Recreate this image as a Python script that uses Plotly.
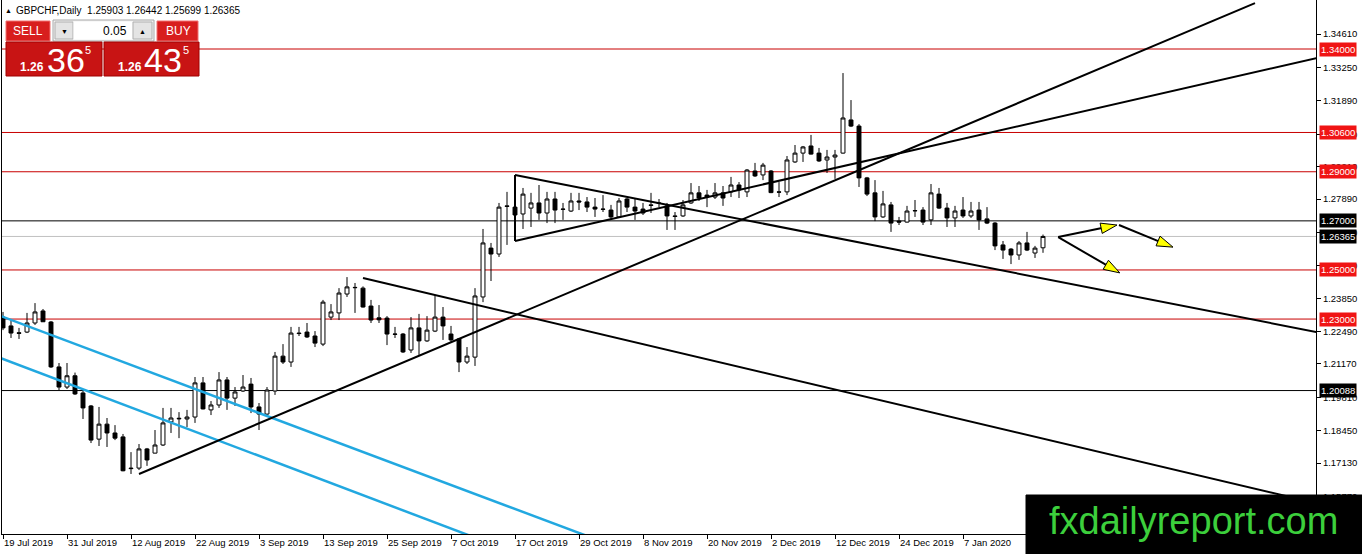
import plotly.graph_objects as go

# GBPCHF daily candles, 19 Jul 2019 .. 21 Jan 2020 (bar index 0..130)
opens = [1.2308, 1.2272, 1.2244, 1.2247, 1.2284, 1.2333, 1.2288, 1.2105, 1.2023, 1.2069,
         1.1999, 1.1946, 1.1811, 1.1872, 1.1836, 1.1820, 1.1693, 1.1693, 1.1771, 1.1754,
         1.1787, 1.1881, 1.1896, 1.1893, 1.1901, 1.2040, 1.1930, 1.1950, 1.2052, 1.1978,
         1.2007, 1.2035, 1.1942, 1.1913, 1.2007, 1.2149, 1.2125, 1.2243, 1.2247, 1.2231,
         1.2198, 1.2308, 1.2325, 1.2402, 1.2429, 1.2426, 1.2353, 1.2305, 1.2304, 1.2239,
         1.2239, 1.2174, 1.2264, 1.2211, 1.2251, 1.2308, 1.2239, 1.2219, 1.2125, 1.2145,
         1.2390, 1.2589, 1.2565, 1.2761, 1.2756, 1.2728, 1.2752, 1.2773, 1.2732, 1.2789,
         1.2748, 1.2740, 1.2781, 1.2777, 1.2756, 1.2748, 1.2744, 1.2716, 1.2789, 1.2756,
         1.2748, 1.2765, 1.2773, 1.2761, 1.2720, 1.2720, 1.2773, 1.2814, 1.2805, 1.2797,
         1.2814, 1.2818, 1.2846, 1.2818, 1.2903, 1.2887, 1.2903, 1.2818, 1.2818, 1.2940,
         1.2976, 1.3005, 1.2976, 1.2948, 1.2960, 1.2976, 1.3111, 1.3086, 1.2875, 1.2814,
         1.2716, 1.2765, 1.2699, 1.2695, 1.2742, 1.2744, 1.2704, 1.2809, 1.2752, 1.2712,
         1.2744, 1.2720, 1.2744, 1.2708, 1.2691, 1.2602, 1.2585, 1.2561, 1.2610, 1.2569,
         1.25903]
highs = [1.2329, 1.2300, 1.2264, 1.2325, 1.2365, 1.2341, 1.2292, 1.2121, 1.2121, 1.2082,
         1.2011, 1.1950, 1.1942, 1.1897, 1.1868, 1.1832, 1.1758, 1.1791, 1.1775, 1.1848,
         1.1938, 1.1938, 1.1921, 1.1930, 1.2064, 1.2064, 1.1966, 1.2084, 1.2064, 1.2023,
         1.2072, 1.2060, 1.1958, 1.2023, 1.2166, 1.2198, 1.2268, 1.2268, 1.2284, 1.2251,
         1.2378, 1.2361, 1.2426, 1.2471, 1.2447, 1.2433, 1.2378, 1.2357, 1.2312, 1.2268,
         1.2243, 1.2308, 1.2321, 1.2312, 1.2398, 1.2349, 1.2272, 1.2223, 1.2186, 1.2426,
         1.2667, 1.2610, 1.2773, 1.2818, 1.2773, 1.2834, 1.2814, 1.2846, 1.2818, 1.2818,
         1.2773, 1.2814, 1.2814, 1.2797, 1.2793, 1.2805, 1.2765, 1.2793, 1.2793, 1.2789,
         1.2773, 1.2814, 1.2789, 1.2773, 1.2736, 1.2785, 1.2854, 1.2842, 1.2826, 1.2854,
         1.2842, 1.2879, 1.2858, 1.2911, 1.2936, 1.2936, 1.2907, 1.2858, 1.2964, 1.3009,
         1.3005, 1.3050, 1.2997, 1.2989, 1.2989, 1.3302, 1.3192, 1.3094, 1.2879, 1.2866,
         1.2822, 1.2777, 1.2716, 1.2761, 1.2785, 1.2756, 1.2850, 1.2834, 1.2773, 1.2761,
         1.2797, 1.2777, 1.2777, 1.2756, 1.2695, 1.2618, 1.2589, 1.2618, 1.2655, 1.2598,
         1.26442]
lows = [1.2255, 1.2223, 1.2219, 1.2243, 1.2276, 1.2288, 1.2101, 1.2011, 1.2015, 1.1991,
        1.1893, 1.1795, 1.1783, 1.1779, 1.1807, 1.1680, 1.1669, 1.1685, 1.1702, 1.1753,
        1.1783, 1.1836, 1.1815, 1.1860, 1.1877, 1.1932, 1.1909, 1.1938, 1.1930, 1.1946,
        1.2003, 1.1917, 1.1848, 1.1909, 1.1991, 1.2117, 1.2105, 1.2231, 1.2223, 1.2186,
        1.2190, 1.2296, 1.2296, 1.2390, 1.2325, 1.2347, 1.2284, 1.2284, 1.2194, 1.2223,
        1.2162, 1.2162, 1.2154, 1.2207, 1.2247, 1.2215, 1.2207, 1.2084, 1.2117, 1.2109,
        1.2369, 1.2455, 1.2553, 1.2602, 1.2712, 1.2667, 1.2675, 1.2704, 1.2691, 1.2691,
        1.2704, 1.2736, 1.2744, 1.2736, 1.2716, 1.2736, 1.2704, 1.2712, 1.2736, 1.2704,
        1.2724, 1.2732, 1.2756, 1.2663, 1.2663, 1.2716, 1.2769, 1.2781, 1.2756, 1.2789,
        1.2761, 1.2797, 1.2793, 1.2797, 1.2879, 1.2866, 1.2813, 1.2797, 1.2805, 1.2936,
        1.2940, 1.2970, 1.2940, 1.2895, 1.2871, 1.2974, 1.3082, 1.2838, 1.2801, 1.2699,
        1.2712, 1.2655, 1.2683, 1.2693, 1.2716, 1.2683, 1.2683, 1.2748, 1.2675, 1.2675,
        1.2712, 1.2712, 1.2663, 1.2687, 1.2581, 1.2545, 1.2524, 1.2541, 1.2577, 1.2549,
        1.25699]
closes = [1.2264, 1.2243, 1.2242, 1.2284, 1.2329, 1.2289, 1.2105, 1.2023, 1.2069, 1.1995,
          1.1938, 1.1807, 1.1872, 1.1836, 1.1815, 1.1682, 1.1691, 1.1771, 1.1726, 1.1787,
          1.1877, 1.1897, 1.1894, 1.1901, 1.2040, 1.1934, 1.1950, 1.2052, 1.1978, 1.2003,
          1.2023, 1.1942, 1.1913, 1.2011, 1.2149, 1.2125, 1.2243, 1.2241, 1.2227, 1.2202,
          1.2369, 1.2329, 1.2406, 1.2431, 1.2428, 1.2349, 1.2296, 1.2297, 1.2239, 1.2238,
          1.2166, 1.2264, 1.2211, 1.2255, 1.2308, 1.2272, 1.2215, 1.2125, 1.2149, 1.2394,
          1.2610, 1.2565, 1.2756, 1.2759, 1.2724, 1.2809, 1.2773, 1.2732, 1.2789, 1.2744,
          1.2747, 1.2781, 1.2777, 1.2756, 1.2748, 1.2747, 1.2716, 1.2781, 1.2756, 1.2740,
          1.2732, 1.2763, 1.2771, 1.2720, 1.2718, 1.2765, 1.2814, 1.2793, 1.2797, 1.2814,
          1.2793, 1.2846, 1.2826, 1.2907, 1.2883, 1.2927, 1.2815, 1.2817, 1.2948, 1.2976,
          1.3001, 1.2972, 1.2944, 1.2960, 1.2968, 1.3119, 1.3086, 1.2875, 1.2809, 1.2716,
          1.2769, 1.2691, 1.2695, 1.2740, 1.2741, 1.2695, 1.2814, 1.2752, 1.2712, 1.2740,
          1.2720, 1.2740, 1.2704, 1.2691, 1.2598, 1.2581, 1.2561, 1.2610, 1.2581, 1.2589,
          1.26365]
bars = list(range(len(closes)))

# date labels every 8 bars
date_ticks = [0, 8, 16, 24, 32, 40, 48, 56, 64, 72, 80, 88, 96, 104, 112, 120]
date_labels = ["19 Jul 2019", "31 Jul 2019", "12 Aug 2019", "22 Aug 2019", "3 Sep 2019",
               "13 Sep 2019", "25 Sep 2019", "7 Oct 2019", "17 Oct 2019", "29 Oct 2019",
               "8 Nov 2019", "20 Nov 2019", "2 Dec 2019", "12 Dec 2019", "24 Dec 2019",
               "7 Jan 2020"]

price_ticks = [1.34610, 1.33250, 1.31890, 1.30530, 1.29210, 1.27890, 1.26530, 1.25170,
               1.23850, 1.22490, 1.21170, 1.19810, 1.18450, 1.17130, 1.15770]

red_levels = [1.34, 1.306, 1.29, 1.25, 1.23]
black_levels = [1.27, 1.20088]
bid = 1.26365

# drawn objects (bar index, price)
up_line_x, up_line_y = [17, 156.5], [1.1669, 1.3587]
down_line_x, down_line_y = [45, 164.2], [1.2467, 1.1550]
tri_upper_x, tri_upper_y = [64, 164.2], [1.2887, 1.2247]
tri_lower_x, tri_lower_y = [64, 164.2], [1.2618, 1.3363]
tri_side_x, tri_side_y = [64, 64], [1.2887, 1.2618]
cyan1_x, cyan1_y = [-1, 80], [1.2321, 1.1331]
cyan2_x, cyan2_y = [-1, 70], [1.2150, 1.1274]
arrows = [([131.9, 139.25], [1.2634, 1.2683]),
          ([139.5, 146.25], [1.2683, 1.2593]),
          ([131.9, 139.6], [1.2634, 1.2488])]

W, H = 1362, 554
ML, MR, MT, MB = 2, 46, 0, 20
PW, PH = W - ML - MR, H - MT - MB
FONT = "Liberation Sans, Arial, sans-serif"


def px(x):
    return (x - ML) / PW


def py(y):
    return 1 - (y - MT) / PH


fig = go.Figure()

fig.add_trace(go.Candlestick(
    x=bars, open=opens, high=highs, low=lows, close=closes,
    increasing=dict(line=dict(color="black", width=1), fillcolor="white"),
    decreasing=dict(line=dict(color="black", width=1), fillcolor="black"),
    whiskerwidth=0, hoverinfo="skip", showlegend=False))

def seg(xs, ys, color="black", width=2):
    fig.add_trace(go.Scatter(x=xs, y=ys, mode="lines", line=dict(color=color, width=width),
                             hoverinfo="skip", showlegend=False))

seg(cyan1_x, cyan1_y, "#22a8e0", 2.5)
seg(cyan2_x, cyan2_y, "#22a8e0", 2.5)
seg(up_line_x, up_line_y)
seg(down_line_x, down_line_y)
seg(tri_upper_x, tri_upper_y)
seg(tri_lower_x, tri_lower_y)
seg(tri_side_x, tri_side_y)
for ax, ay in arrows:
    fig.add_trace(go.Scatter(
        x=ax, y=ay, mode="lines+markers", line=dict(color="black", width=2),
        marker=dict(symbol="arrow", size=[0, 17], color="#ffff00", opacity=[0, 1],
                    angleref="previous", line=dict(color="black", width=1)),
        hoverinfo="skip", showlegend=False))

shapes = []
for lv in red_levels:
    shapes.append(dict(type="line", xref="paper", x0=0, x1=1, yref="y", y0=lv, y1=lv,
                       line=dict(color="#c80000", width=1), layer="below"))
for lv in black_levels:
    shapes.append(dict(type="line", xref="paper", x0=0, x1=1, yref="y", y0=lv, y1=lv,
                       line=dict(color="black", width=1), layer="below"))
shapes.append(dict(type="line", xref="paper", x0=0, x1=1, yref="y", y0=bid, y1=bid,
                   line=dict(color="#c0c0c0", width=1), layer="below"))


def box(x0, y0, x1, y1, fill, border):
    shapes.append(dict(type="rect", xref="paper", yref="paper", x0=px(x0), x1=px(x1),
                       y0=py(y1), y1=py(y0), fillcolor=fill,
                       line=dict(color=border, width=1), layer="above"))


# one-click trading panel
box(6, 21, 50, 41, "#d81e1e", "#f07070")
box(53, 20, 154, 41, "#f2f2f2", "#a8a8a8")
box(55, 22, 73, 39, "#e4e4e4", "#b0b0b0")
box(74, 22, 132, 39, "white", "white")
box(133, 22, 152, 39, "#e4e4e4", "#b0b0b0")
box(157, 21, 198, 41, "#d81e1e", "#f07070")
box(6, 42, 102, 76, "#c81414", "#a00000")
box(104, 42, 199, 76, "#c81414", "#a00000")
# watermark
box(1026, 495, 1370, 560, "black", "black")

ann = []


def label(x, y, text, size=10, color="black", xanchor="left", bold=False):
    t = "<b>" + text + "</b>" if bold else text
    ann.append(dict(xref="paper", yref="paper", x=px(x), y=py(y), text=t, showarrow=False,
                    xanchor=xanchor, yanchor="middle", borderpad=0,
                    font=dict(family=FONT, size=size, color=color)))


label(4, 10, "▲", size=7)
label(15, 10, "GBPCHF,Daily  1.25903 1.26442 1.25699 1.26365", size=10)
label(28, 31, "SELL", size=12, color="white", xanchor="center")
label(178, 31, "BUY", size=12, color="white", xanchor="center")
label(64, 31, "▼", size=7, xanchor="center")
label(142, 31, "▲", size=7, xanchor="center")
label(128, 31, "0.05", size=12, xanchor="right")
label(19, 67, "1.26", size=12, color="white", bold=True)
label(46, 60, "36", size=34, color="white")
label(84, 50, "5", size=11, color="white")
label(117, 67, "1.26", size=12, color="white", bold=True)
label(143, 60, "43", size=34, color="white")
label(182, 50, "5", size=11, color="white")
label(1193, 521, "fxdailyreport.com", size=38, color="#3ccf3c", xanchor="center")

for lv in red_levels:
    ann.append(dict(xref="paper", yref="y", x=px(1319), y=lv, text=f"{lv:.5f}",
                    showarrow=False, xanchor="left", yanchor="middle", bgcolor="#f01414",
                    borderpad=1, font=dict(family=FONT, size=9.5, color="white")))
for lv in black_levels + [bid]:
    ann.append(dict(xref="paper", yref="y", x=px(1319), y=lv, text=f"{lv:.5f}",
                    showarrow=False, xanchor="left", yanchor="middle", bgcolor="black",
                    borderpad=1, font=dict(family=FONT, size=9.5, color="white")))

fig.update_layout(
    width=W, height=H,
    margin=dict(l=ML, r=MR, t=MT, b=MB, autoexpand=False),
    paper_bgcolor="white", plot_bgcolor="white",
    shapes=shapes, annotations=ann, showlegend=False,
    font=dict(family=FONT, size=9.5, color="black"),
    xaxis=dict(range=[-0.125, 164.125], rangeslider=dict(visible=False),
               showgrid=False, zeroline=False, showline=True, linecolor="black", linewidth=1,
               ticks="outside", ticklen=4, tickcolor="black",
               tickvals=date_ticks, ticktext=date_labels, ticklabelposition="outside right",
               tickfont=dict(family=FONT, size=9.5)),
    yaxis=dict(range=[1.14245, 1.35996], side="right", showgrid=False, zeroline=False,
               showline=True, mirror=True, linecolor="black", linewidth=1,
               ticks="outside", ticklen=4, tickcolor="black",
               tickvals=price_ticks, ticktext=[f"{v:.5f}" for v in price_ticks],
               tickfont=dict(family=FONT, size=9.5)),
)

# page has a default body margin; drop it so the figure sits at the window corner
fig.write_html("out.html", config={"displayModeBar": False},
               post_script="document.body.style.margin='0';")
